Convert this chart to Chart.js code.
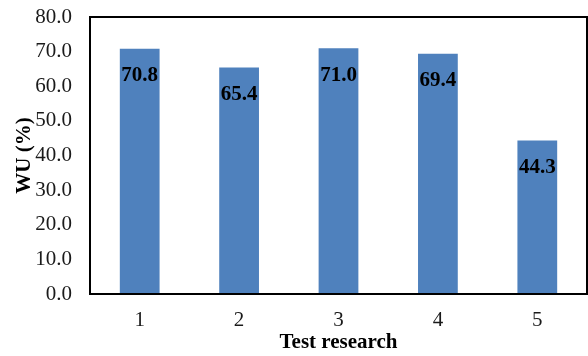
<!DOCTYPE html>
<html>
<head>
<meta charset="utf-8">
<script src="https://cdn.jsdelivr.net/npm/chart.js@4/dist/chart.umd.min.js"></script>
<style>
  html, body { margin: 0; padding: 0; background: #fff; }
  #wrap { width: 588px; height: 356px; }
</style>
</head>
<body>
<div id="wrap"><canvas id="c" width="588" height="356"></canvas></div>
<script>
// Water uptake per test run
const categories = ['1', '2', '3', '4', '5'];
const wuValues = [70.8, 65.4, 71.0, 69.4, 44.3];
const yTicks = [0, 10, 20, 30, 40, 50, 60, 70, 80];

const serif = "'Liberation Serif', 'Times New Roman', serif";

// Value labels inside each bar, just below its top
const barLabels = {
  id: 'barLabels',
  afterDatasetsDraw(chart) {
    const ctx = chart.ctx;
    const meta = chart.getDatasetMeta(0);
    ctx.save();
    ctx.font = "bold 21px " + serif;
    ctx.fillStyle = '#000';
    ctx.textAlign = 'center';
    ctx.textBaseline = 'middle';
    meta.data.forEach((bar, i) => {
      ctx.fillText(wuValues[i].toFixed(1), bar.x, bar.y + 27);
    });
    ctx.restore();
  }
};

// Box around the plot area
const frame = {
  id: 'frame',
  afterDraw(chart) {
    const a = chart.chartArea;
    const ctx = chart.ctx;
    ctx.save();
    ctx.strokeStyle = '#000';
    ctx.lineWidth = 2;
    ctx.strokeRect(a.left, a.top, a.right - a.left, a.bottom - a.top);
    ctx.restore();
  }
};

new Chart(document.getElementById('c'), {
  type: 'bar',
  data: {
    labels: categories,
    datasets: [{
      data: wuValues,
      backgroundColor: '#4F81BD',
      borderWidth: 0,
      barPercentage: 0.4,
      categoryPercentage: 1.0
    }]
  },
  options: {
    responsive: false,
    animation: false,
    devicePixelRatio: 1,
    layout: { padding: { left: 0, top: 17, right: 1, bottom: 0 } },
    plugins: { legend: { display: false }, tooltip: { enabled: false } },
    scales: {
      x: {
        grid: { display: false, drawTicks: false },
        border: { display: false },
        ticks: { color: '#1a1a1a', font: { family: serif, size: 21 }, padding: 14 },
        title: {
          display: true, text: 'Test research', color: '#000',
          font: { family: serif, size: 21, weight: 'bold' },
          padding: { top: 0, bottom: 1 }
        },
        afterFit(scale) {
          scale.height = 62;
          scale.paddingLeft = 0;
          scale.paddingRight = 0;
        }
      },
      y: {
        min: 0, max: 80,
        afterBuildTicks(scale) { scale.ticks = yTicks.map(v => ({ value: v })); },
        grid: { display: false, drawTicks: false },
        border: { display: false },
        ticks: {
          color: '#1a1a1a', font: { family: serif, size: 21 }, padding: 18,
          callback: v => Number(v).toFixed(1)
        },
        title: {
          display: true, text: 'WU (%)', color: '#000',
          font: { family: serif, size: 21, weight: 'bold' },
          padding: { top: 12, bottom: 0 }
        },
        afterFit(scale) {
          scale.width = 90;
          scale.paddingTop = 0;
          scale.paddingBottom = 0;
        }
      }
    }
  },
  plugins: [barLabels, frame]
});
</script>
</body>
</html>
